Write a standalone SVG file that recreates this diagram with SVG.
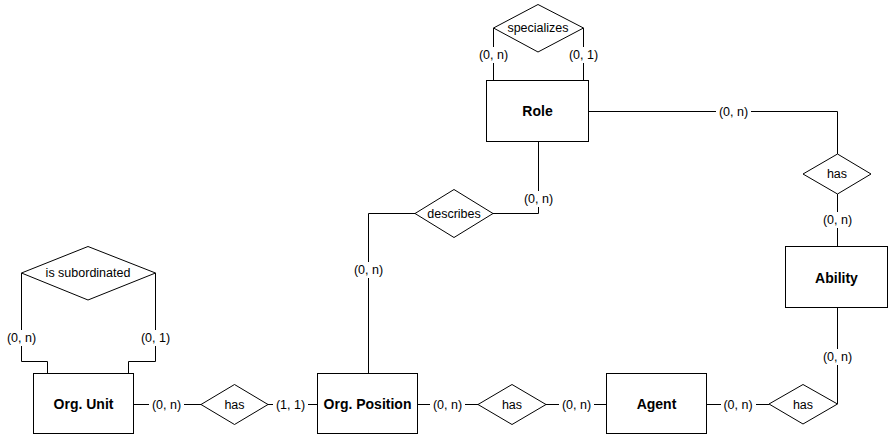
<svg xmlns="http://www.w3.org/2000/svg" width="889" height="438" viewBox="0 0 889 438">
<style>
.ent{fill:#fff;stroke:#000;stroke-width:1}
.rel{fill:#fff;stroke:#000;stroke-width:1}
.et{font-family:"Liberation Sans",Arial,sans-serif;font-size:14px;font-weight:bold;text-anchor:middle;dominant-baseline:central;fill:#000}
.rt{font-family:"Liberation Sans",Arial,sans-serif;font-size:12.5px;text-anchor:middle;dominant-baseline:central;fill:#000}
.ln{fill:none;stroke:#000;stroke-width:1}
.lb{fill:#fff}
</style>
<rect width="889" height="438" fill="#fff"/>
<g id="connectors">
<path class="ln" d="M493.5,28 V80.5"/>
<path class="ln" d="M583.5,28 V80.5"/>
<path class="ln" d="M589,111.5 H837.5 V154"/>
<path class="ln" d="M837.5,194 V246"/>
<path class="ln" d="M837.5,308 V404"/>
<path class="ln" d="M707,404.5 H769"/>
<path class="ln" d="M418,404.5 H478"/>
<path class="ln" d="M546,404.5 H606"/>
<path class="ln" d="M368.5,373 V213.5 H415"/>
<path class="ln" d="M493,213.5 H538.5 V142"/>
<path class="ln" d="M21.5,273 V361.5 H47.5 V373"/>
<path class="ln" d="M155.5,273 V361.5 H128.5 V373"/>
<path class="ln" d="M133,404.5 H201"/>
<path class="ln" d="M268,404.5 H317"/>
<g id="labels">
<rect class="lb" x="476" y="47" width="35" height="16"/><text class="rt" x="493.5" y="55">(0, n)</text>
<rect class="lb" x="566" y="47" width="35" height="16"/><text class="rt" x="583.5" y="55">(0, 1)</text>
<rect class="lb" x="716" y="103" width="35" height="16"/><text class="rt" x="733.5" y="111.5">(0, n)</text>
<rect class="lb" x="820" y="212" width="35" height="16"/><text class="rt" x="837.5" y="220">(0, n)</text>
<rect class="lb" x="820" y="349" width="35" height="16"/><text class="rt" x="837.5" y="357">(0, n)</text>
<rect class="lb" x="721" y="396" width="35" height="16"/><text class="rt" x="738" y="404.5">(0, n)</text>
<rect class="lb" x="430" y="396" width="35" height="16"/><text class="rt" x="447.5" y="404.5">(0, n)</text>
<rect class="lb" x="559" y="396" width="35" height="16"/><text class="rt" x="576.5" y="404.5">(0, n)</text>
<rect class="lb" x="351" y="262" width="35" height="16"/><text class="rt" x="368.5" y="270">(0, n)</text>
<rect class="lb" x="521" y="191" width="35" height="16"/><text class="rt" x="538.5" y="199">(0, n)</text>
<rect class="lb" x="4" y="330" width="35" height="16"/><text class="rt" x="21.5" y="338">(0, n)</text>
<rect class="lb" x="138" y="330" width="35" height="16"/><text class="rt" x="155.5" y="338">(0, 1)</text>
<rect class="lb" x="149" y="396" width="35" height="16"/><text class="rt" x="166.5" y="404.5">(0, n)</text>
<rect class="lb" x="273" y="396" width="35" height="16"/><text class="rt" x="290.5" y="404.5">(1, 1)</text>
</g>
</g>
<g id="role"><rect class="ent" x="486.5" y="80.5" width="102" height="61"/><text class="et" x="537.5" y="111">Role</text></g>
<g id="specializes"><polygon class="rel" points="538,4.5 583.5,28 538,52 493.5,28"/><text class="rt" x="538" y="28">specializes</text></g>
<g id="has-role-ability"><polygon class="rel" points="803,174 837.5,154 871,174 837.5,194"/><text class="rt" x="837" y="174">has</text></g>
<g id="ability"><rect class="ent" x="785.5" y="246.5" width="102" height="61"/><text class="et" x="836.5" y="277.5">Ability</text></g>
<g id="has-agent-ability"><polygon class="rel" points="769,404 803,384.5 837.5,404 803,424"/><text class="rt" x="803" y="404.5">has</text></g>
<g id="agent"><rect class="ent" x="606.5" y="373.5" width="100" height="60"/><text class="et" x="656.5" y="404">Agent</text></g>
<g id="has-pos-agent"><polygon class="rel" points="478,404.5 512,384.5 546,404.5 512,424.5"/><text class="rt" x="512" y="404.5">has</text></g>
<g id="org-position"><rect class="ent" x="317.5" y="373.5" width="100" height="60"/><text class="et" x="367.5" y="404">Org. Position</text></g>
<g id="describes"><polygon class="rel" points="415,213.5 454,189.5 493,213.5 454,237.5"/><text class="rt" x="454" y="213.5">describes</text></g>
<g id="is-subordinated"><polygon class="rel" points="21.5,273 88,246.5 155.5,273 88,300"/><text class="rt" x="88" y="273">is subordinated</text></g>
<g id="has-unit-pos"><polygon class="rel" points="201,404.5 234.5,384.5 268,404.5 234.5,424.5"/><text class="rt" x="234.5" y="404.5">has</text></g>
<g id="org-unit"><rect class="ent" x="33.5" y="373.5" width="100" height="60"/><text class="et" x="83.5" y="404">Org. Unit</text></g>
</svg>
